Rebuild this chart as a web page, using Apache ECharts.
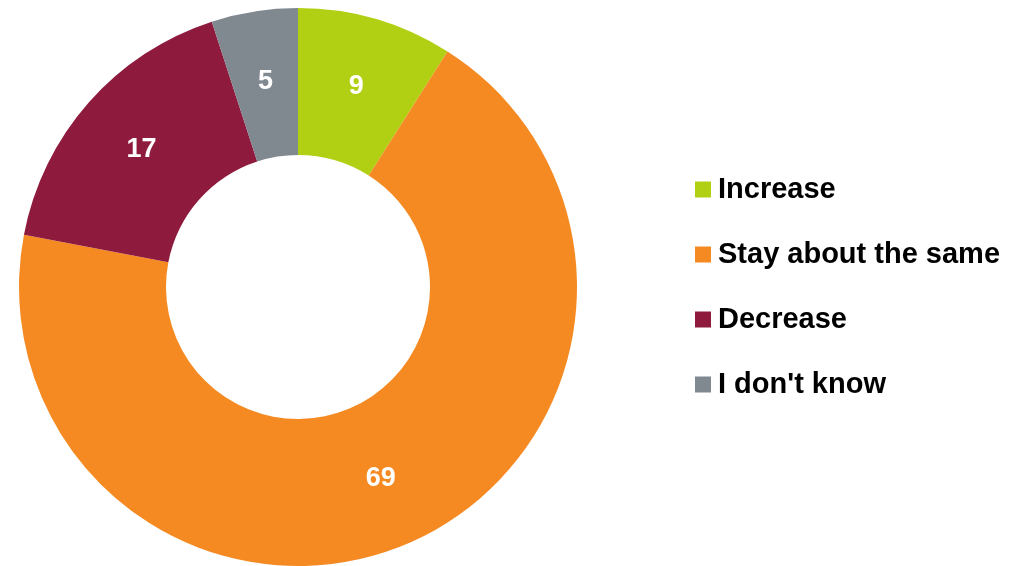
<!DOCTYPE html>
<html>
<head>
<meta charset="utf-8">
<script src="https://cdn.jsdelivr.net/npm/echarts@6/dist/echarts.min.js"></script>
<style>
  html, body { margin: 0; padding: 0; background: #fff; }
  #chart { width: 1027px; height: 566px; }
</style>
</head>
<body>
<div id="chart"></div>
<script>
// answers and shares (percent)
var categories = ['Increase', 'Stay about the same', 'Decrease', "I don't know"];
var values = [9, 69, 17, 5];
var colors = ['#b1d013', '#f58a22', '#8e1b3e', '#808890'];

var chart = echarts.init(document.getElementById('chart'));

var option = {
  animation: false,
  color: colors,
  legend: {
    orient: 'vertical',
    left: 695,
    top: 175,
    padding: 0,
    icon: 'rect',
    itemWidth: 16,
    itemHeight: 16,
    itemGap: 36,
    selectedMode: false,
    data: categories,
    textStyle: {
      fontFamily: 'Liberation Sans, Arial, sans-serif',
      fontWeight: 'bold',
      fontSize: 29,
      color: '#000',
      padding: [0, 0, 0, 2]
    }
  },
  series: [
    {
      type: 'pie',
      center: [298, 287],
      radius: [132, 279],
      startAngle: 90,
      clockwise: true,
      label: {
        show: true,
        position: 'inside',
        formatter: '{c}',
        color: '#fff',
        fontFamily: 'Liberation Sans, Arial, sans-serif',
        fontWeight: 'bold',
        fontSize: 27
      },
      labelLine: { show: false },
      emphasis: { disabled: true },
      itemStyle: { borderWidth: 0 },
      data: categories.map(function (name, i) {
        return { name: name, value: values[i] };
      })
    }
  ]
};

chart.setOption(option);
</script>
</body>
</html>
